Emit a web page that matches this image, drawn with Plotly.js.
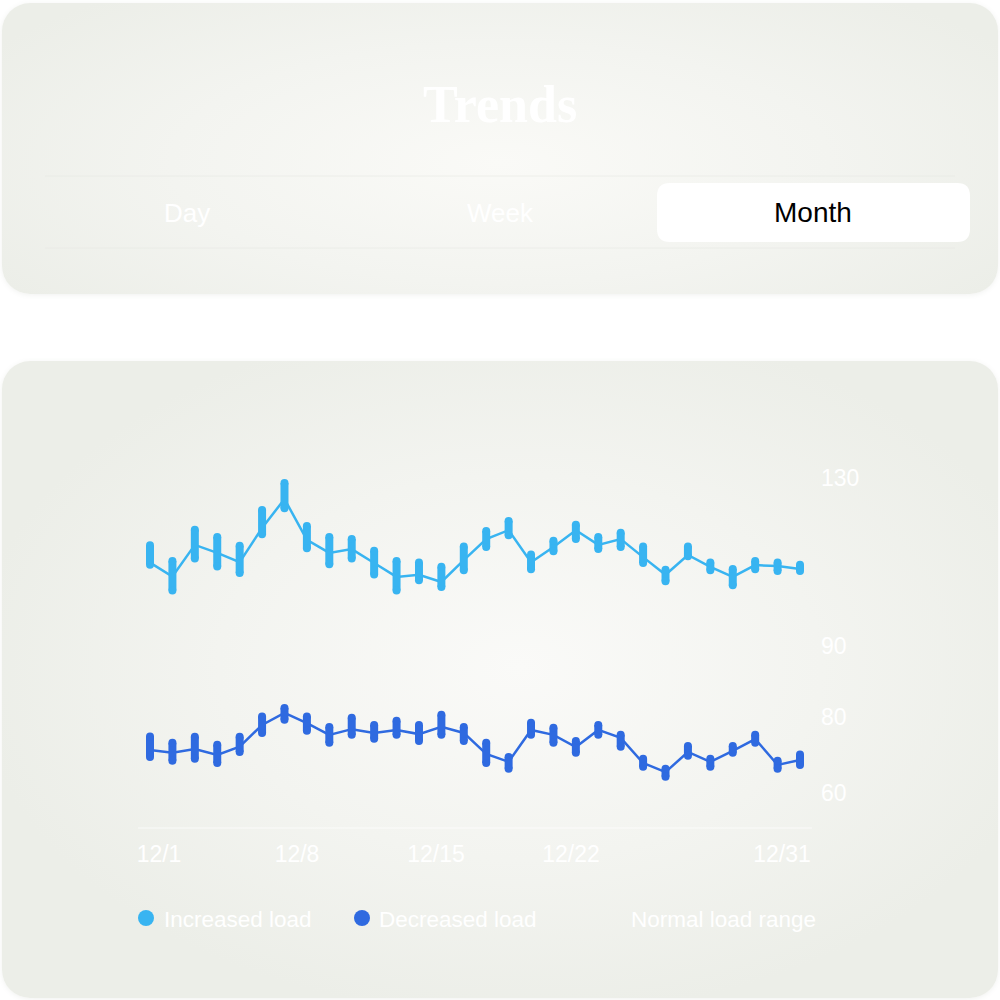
<!DOCTYPE html>
<html>
<head>
<meta charset="utf-8">
<script src="https://cdn.plot.ly/plotly-3.0.1.min.js"></script>
<style>
  html, body { margin: 0; padding: 0; background: #ffffff; width: 1000px; height: 1000px; overflow: hidden; }
  .card { position: absolute; border-radius: 28px; box-shadow: 0 1px 5px rgba(120,130,110,0.10); }
  #card1 { left: 2px; top: 3px; width: 996px; height: 291px;
    background: radial-gradient(ellipse 60% 75% at 50% 55%, #fafaf7 0%, #f3f4f0 55%, #eceee8 100%); }
  #card2 { left: 2px; top: 361px; width: 996px; height: 637px;
    background: radial-gradient(ellipse 55% 55% at 52% 48%, #fafaf8 0%, #f3f4f0 55%, #eceee8 100%); }
  #chart { position: absolute; left: 0; top: 0; width: 1000px; height: 1000px; }
</style>
</head>
<body>
<div class="card" id="card1"></div>
<div class="card" id="card2"></div>
<div id="chart"></div>
<script>
// ---- data ----
const days = [1,2,3,4,5,6,7,8,9,10,11,12,13,14,15,16,17,18,19,20,21,22,23,24,25,26,27,28,29,30];

// Increased load: range high / low and the connecting (typical) value
const incHigh = [113.9,110.2,117.6,115.9,113.8,122.3,128.7,118.5,115.9,115.4,112.6,110.2,109.8,108.8,113.6,117.3,119.7,111.7,115.0,118.8,115.9,116.9,113.6,108.1,113.6,109.8,108.3,110.2,109.8,109.3];
const incLow  = [109.3,103.2,110.8,108.9,107.3,116.5,122.7,113.2,109.4,110.8,107.0,103.2,105.6,104.0,108.0,113.5,116.3,108.2,112.5,115.4,113.0,113.5,109.7,105.4,111.3,108.0,104.4,108.2,107.8,107.8];
const incMid  = [109.8,106.5,114.0,112.1,109.9,118.0,124.9,115.2,112.1,113.0,109.7,106.4,106.9,105.2,110.4,115.4,117.5,109.9,113.5,117.5,114.0,115.4,111.1,106.9,111.6,108.8,106.4,109.2,109.0,108.3];

// Decreased load
const decHigh = [74.9,73.2,74.8,72.7,74.8,80.1,82.4,80.1,77.4,79.8,77.9,79.0,77.9,80.6,77.4,73.2,69.5,78.5,77.2,73.7,77.9,75.3,69.0,66.4,72.4,69.0,72.4,75.3,68.5,70.1];
const decLow  = [69.5,68.5,69.0,67.9,70.8,75.8,79.3,76.4,73.2,75.3,74.3,75.3,73.7,75.3,73.7,67.9,66.4,75.3,73.2,70.6,75.3,72.2,66.9,64.3,69.8,66.9,70.6,73.2,66.4,67.4];
const decMid  = [71.3,70.6,71.6,70.0,72.2,77.9,81.1,78.4,75.3,76.8,75.8,76.6,75.5,77.4,75.8,70.3,68.2,76.6,75.3,72.1,76.6,74.5,67.9,65.5,70.8,68.2,71.1,74.2,67.4,68.7];

const xTickText = ['12/1','12/8','12/15','12/22','12/31'];
const yTopTicks = [90, 130];
const yBotTicks = [60, 80];
const legendNames = ['Increased load','Decreased load','Normal load range'];
const tabs = ['Day','Week','Month'];

const colInc = '#38b4f1';
const colDec = '#2f6ae0';

// ---- helpers ----
function segs(x, lo, hi) {
  const xs = [], ys = [];
  for (let i = 0; i < x.length; i++) {
    xs.push(x[i], x[i], null);
    ys.push(lo[i], hi[i], null);
  }
  return {xs, ys};
}
const P = px => px / 1000;          // paper x from pixel
const Q = py => 1 - py / 1000;      // paper y from pixel

const sInc = segs(days, incLow, incHigh);
const sDec = segs(days, decLow, decHigh);

const traces = [
  {type:'scatter', mode:'lines', x:days, y:incMid, xaxis:'x', yaxis:'y',
   line:{color:colInc, width:2.5}, hoverinfo:'skip', showlegend:false},
  {type:'scatter', mode:'lines+markers', x:sInc.xs, y:sInc.ys, xaxis:'x', yaxis:'y',
   line:{color:colInc, width:8}, marker:{color:colInc, size:8, line:{width:0}},
   connectgaps:false, showlegend:false, name:legendNames[0]},
  {type:'scatter', mode:'lines', x:days, y:decMid, xaxis:'x', yaxis:'y2',
   line:{color:colDec, width:2.5}, hoverinfo:'skip', showlegend:false},
  {type:'scatter', mode:'lines+markers', x:sDec.xs, y:sDec.ys, xaxis:'x', yaxis:'y2',
   line:{color:colDec, width:8}, marker:{color:colDec, size:8, line:{width:0}},
   connectgaps:false, showlegend:false, name:legendNames[1]}
];

// x: day 1 at px 150, day 30 at px 800
const pxPerDay = 650 / 29;
const xDom = [0.10, 0.815];
const xRange = [1 - 50 / pxPerDay, 30 + 15 / pxPerDay];
const tickPx = [159, 297, 436, 571, 782];
const xTickVals = tickPx.map(p => 1 + (p - 150) / pxPerDay);

// top: 130 @ 477.5px, 90 @ 646px ; bottom: 80 @ 717px, 60 @ 793px
const kTop = (646 - 477.5) / 40, kBot = (793 - 717) / 20;
const yTopRange = [130 - (680 - 477.5) / kTop, 130 + (477.5 - 440) / kTop];
const yBotRange = [80 - (830 - 717) / kBot, 80 + (717 - 690) / kBot];

const white = '#ffffff';
const tickFont = {family:'Liberation Sans, Arial, sans-serif', size:23, color:white};

const shapes = [
  // segmented control faint outline lines
  {type:'line', xref:'paper', yref:'paper', x0:P(45), x1:P(955), y0:Q(176), y1:Q(176), line:{color:'rgba(230,232,226,0.6)', width:1}},
  {type:'line', xref:'paper', yref:'paper', x0:P(45), x1:P(955), y0:Q(248), y1:Q(248), line:{color:'rgba(230,232,226,0.6)', width:1}},
  // Month tab (rounded white rect)
  (function(){
    const x0=657, x1=970, y0=183, y1=242, r=13;
    const p = `M ${P(x0+r)} ${Q(y0)} L ${P(x1-r)} ${Q(y0)} Q ${P(x1)} ${Q(y0)} ${P(x1)} ${Q(y0+r)} ` +
              `L ${P(x1)} ${Q(y1-r)} Q ${P(x1)} ${Q(y1)} ${P(x1-r)} ${Q(y1)} ` +
              `L ${P(x0+r)} ${Q(y1)} Q ${P(x0)} ${Q(y1)} ${P(x0)} ${Q(y1-r)} ` +
              `L ${P(x0)} ${Q(y0+r)} Q ${P(x0)} ${Q(y0)} ${P(x0+r)} ${Q(y0)} Z`;
    return {type:'path', xref:'paper', yref:'paper', path:p, fillcolor:'#ffffff', line:{width:0}};
  })(),
  // faint baseline under the plot
  {type:'line', xref:'paper', yref:'paper', x0:P(138), x1:P(812), y0:Q(828), y1:Q(828), line:{color:'rgba(255,255,255,0.7)', width:1}},
  // legend dots
  {type:'circle', xref:'paper', yref:'paper', x0:P(138), x1:P(154), y0:Q(910), y1:Q(926), fillcolor:colInc, line:{width:0}},
  {type:'circle', xref:'paper', yref:'paper', x0:P(354), x1:P(370), y0:Q(910), y1:Q(926), fillcolor:colDec, line:{width:0}}
];

const annotations = [
  {text:'Trends', xref:'paper', yref:'paper', x:0.5, y:Q(105), xanchor:'center', yanchor:'middle', showarrow:false,
   font:{family:'Liberation Serif, Times New Roman, serif', size:52, color:white, weight:'bold'}},
  {text:tabs[0], xref:'paper', yref:'paper', x:P(187), y:Q(213), xanchor:'center', yanchor:'middle', showarrow:false,
   font:{family:'Liberation Sans, Arial, sans-serif', size:26, color:white}},
  {text:tabs[1], xref:'paper', yref:'paper', x:P(500), y:Q(213), xanchor:'center', yanchor:'middle', showarrow:false,
   font:{family:'Liberation Sans, Arial, sans-serif', size:26, color:white}},
  {text:tabs[2], xref:'paper', yref:'paper', x:P(813), y:Q(213), xanchor:'center', yanchor:'middle', showarrow:false,
   font:{family:'Liberation Sans, Arial, sans-serif', size:28, color:'#000000'}},
  {text:legendNames[0], xref:'paper', yref:'paper', x:P(162), y:Q(919), xanchor:'left', yanchor:'middle', showarrow:false,
   font:{family:'Liberation Sans, Arial, sans-serif', size:22.5, color:white}},
  {text:legendNames[1], xref:'paper', yref:'paper', x:P(377), y:Q(919), xanchor:'left', yanchor:'middle', showarrow:false,
   font:{family:'Liberation Sans, Arial, sans-serif', size:22.5, color:white}},
  {text:legendNames[2], xref:'paper', yref:'paper', x:P(629), y:Q(919), xanchor:'left', yanchor:'middle', showarrow:false,
   font:{family:'Liberation Sans, Arial, sans-serif', size:22.5, color:white}}
];

const layout = {
  width:1000, height:1000,
  margin:{l:0, r:0, t:0, b:0, pad:0},
  paper_bgcolor:'rgba(0,0,0,0)', plot_bgcolor:'rgba(0,0,0,0)',
  showlegend:false,
  xaxis:{domain:xDom, range:xRange, anchor:'y2', showgrid:false, zeroline:false, showline:false,
         ticks:'', tickmode:'array', tickvals:xTickVals, ticktext:xTickText, tickfont:tickFont,
         ticklabelstandoff:8, fixedrange:true},
  yaxis:{domain:[Q(680), Q(440)], range:yTopRange, anchor:'x', side:'right', showgrid:false, zeroline:false,
         showline:false, ticks:'', tickmode:'array', tickvals:yTopTicks, ticktext:yTopTicks.map(String),
         tickfont:tickFont, ticklabelstandoff:5, fixedrange:true},
  yaxis2:{domain:[Q(830), Q(690)], range:yBotRange, anchor:'x', side:'right', showgrid:false, zeroline:false,
         showline:false, ticks:'', tickmode:'array', tickvals:yBotTicks, ticktext:yBotTicks.map(String),
         tickfont:tickFont, ticklabelstandoff:5, fixedrange:true},
  shapes:shapes,
  annotations:annotations
};

Plotly.newPlot('chart', traces, layout, {displayModeBar:false, staticPlot:true});
</script>
</body>
</html>
